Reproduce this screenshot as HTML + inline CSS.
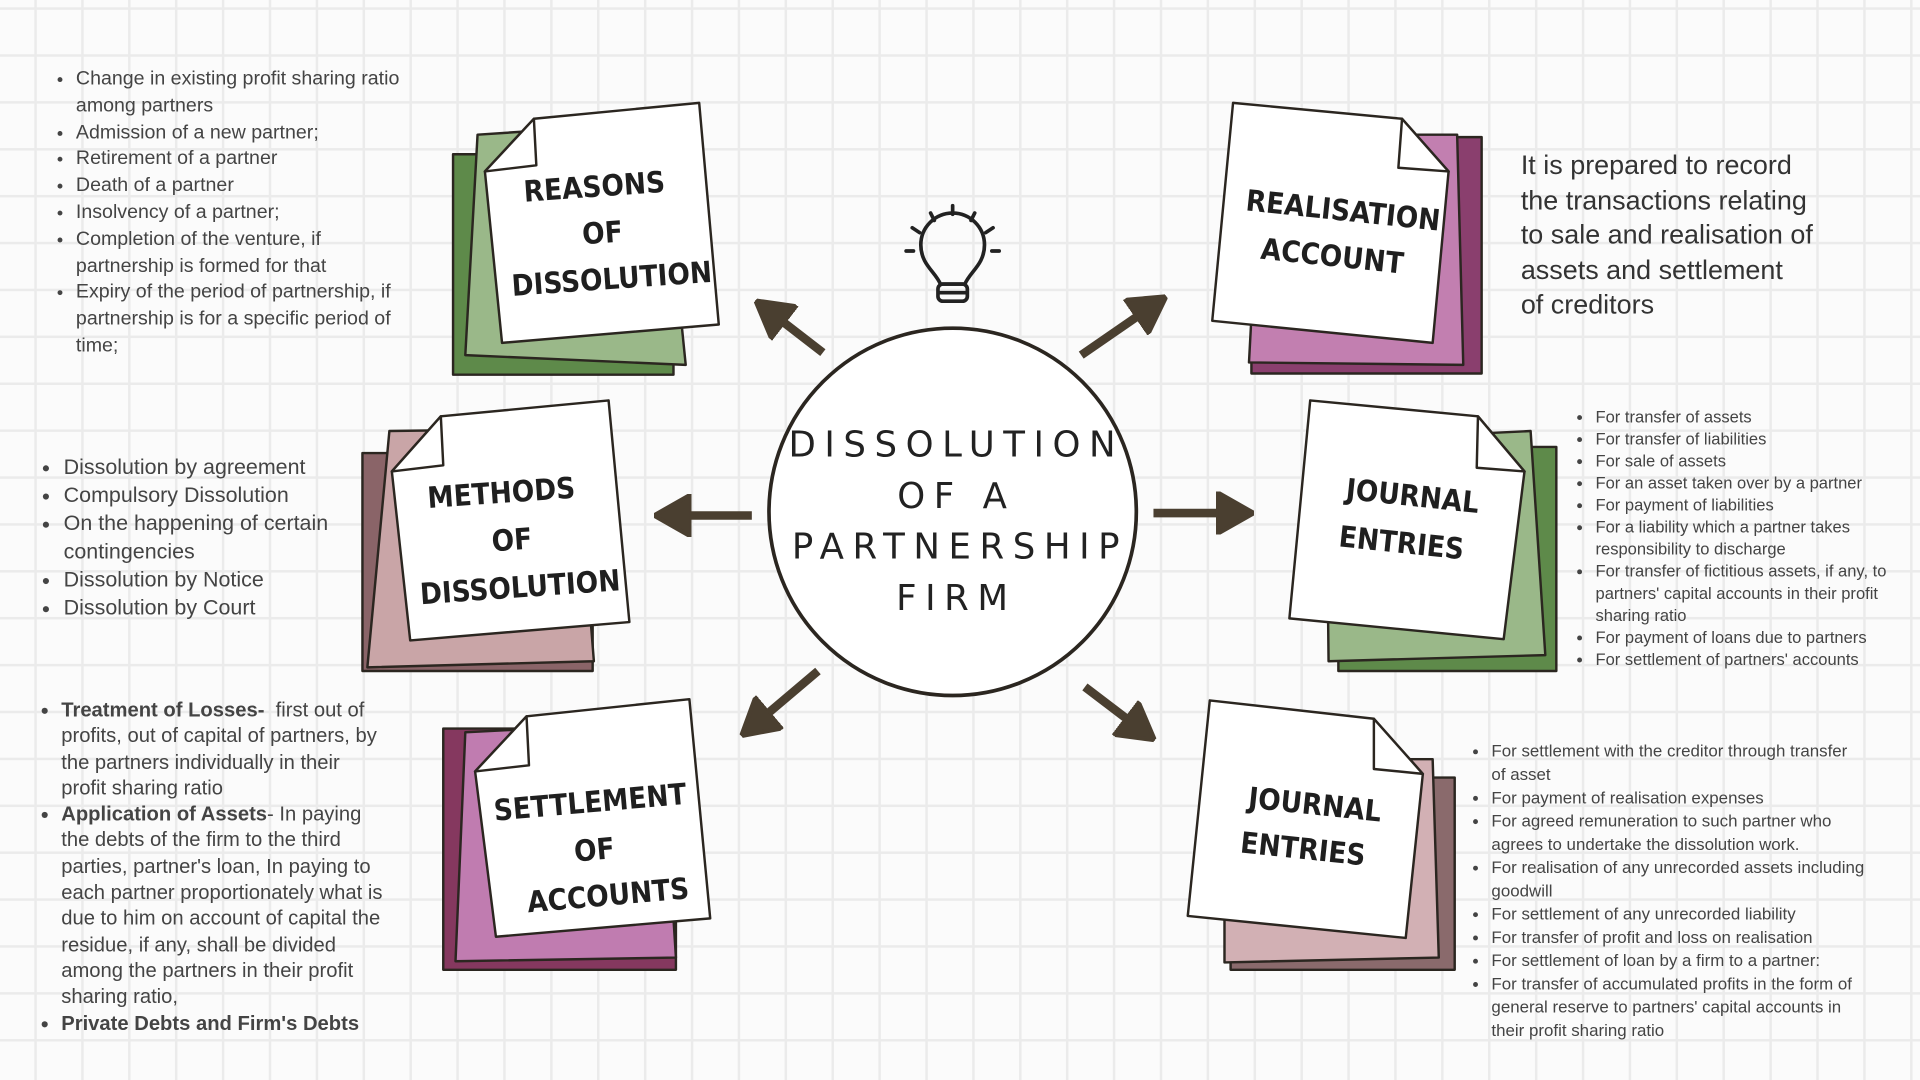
<!DOCTYPE html>
<html><head><meta charset="utf-8"><style>
html,body{margin:0;padding:0;width:1920px;height:1080px;overflow:hidden;background:#fbfbfb}
#s{position:absolute;left:0;top:0;width:1568px;height:882px;transform:scale(1.22449);transform-origin:0 0;
background-color:#fbfbfb;
background-image:linear-gradient(to right,#ebebeb 2px,transparent 2px),linear-gradient(to bottom,#ebebeb 2px,transparent 2px);
background-size:38.3px 38.3px;background-position:28px 6px;font-family:"Liberation Sans",sans-serif;color:#444}
svg{position:absolute;left:0;top:0}
ul{position:absolute;margin:0;padding:0 0 0 16px;list-style:disc;white-space:nowrap}
li{margin:0}
.nt{font-family:"DejaVu Sans Condensed","DejaVu Sans",sans-serif;font-weight:bold;fill:#1f1f1f;text-anchor:middle}
</style></head><body><div id="s">
<svg width="1568" height="882" viewBox="0 0 1568 882">
<g stroke="#2b2620" stroke-width="2" stroke-linejoin="round">
<rect x="370" y="126" width="180" height="180" fill="#5e8a4a"/>
<polygon points="390,110 540,100 560,298 380,290" fill="#9ab889"/>
<polygon points="436,97 571,84 587,265 410,280 396,140" fill="#fff"/>
<polygon points="436,97 396,140 438,135" fill="#fff"/>
<rect x="1022" y="112" width="188" height="193" fill="#8a3f6e"/>
<polygon points="1030,110 1190,110 1195,298 1020,296" fill="#c27fb0"/>
<polygon points="1007,84 1145,97 1183,140 1170,280 990,262" fill="#fff"/>
<polygon points="1145,97 1183,140 1142,137" fill="#fff"/>
<rect x="296" y="370" width="188" height="178" fill="#8a6468"/>
<polygon points="318,352 470,350 485,540 300,545" fill="#c9a5a7"/>
<polygon points="360,340 497,327 514,508 335,523 320,385" fill="#fff"/>
<polygon points="360,340 320,385 362,380" fill="#fff"/>
<rect x="1093" y="365" width="178" height="183" fill="#5e8a4a"/>
<polygon points="1083,360 1250,352 1262,535 1085,540" fill="#9ab889"/>
<polygon points="1070,327 1207,340 1245,385 1228,522 1053,505" fill="#fff"/>
<polygon points="1207,340 1245,385 1206,382" fill="#fff"/>
<rect x="362" y="595" width="190" height="197" fill="#85385f"/>
<polygon points="380,598 540,590 552,782 372,785" fill="#c07cb0"/>
<polygon points="430,585 563,571 580,750 405,765 388,630" fill="#fff"/>
<polygon points="430,585 388,630 432,625" fill="#fff"/>
<rect x="1005" y="635" width="183" height="157" fill="#8a6a6c"/>
<polygon points="1000,620 1170,620 1175,782 1000,786" fill="#d2b0b4"/>
<polygon points="988,572 1122,587 1162,632 1148,766 970,748" fill="#fff"/>
<polygon points="1122,587 1162,632 1122,628" fill="#fff"/>
</g>
<g font-size="24">
<text class="nt" transform="rotate(-4 497 190)"><tspan x="488" y="160">REASONS</tspan><tspan x="492" y="198">OF</tspan><tspan x="497" y="236">DISSOLUTION</tspan></text>
<text class="nt" transform="rotate(6 1095 190)"><tspan x="1095" y="180">REALISATION</tspan><tspan x="1090" y="218">ACCOUNT</tspan></text>
<text class="nt" transform="rotate(-4 420 440)"><tspan x="412" y="410">METHODS</tspan><tspan x="418" y="449">OF</tspan><tspan x="422" y="488">DISSOLUTION</tspan></text>
<text class="nt" transform="rotate(6 1150 420)"><tspan x="1152" y="413">JOURNAL</tspan><tspan x="1147" y="452">ENTRIES</tspan></text>
<text class="nt" transform="rotate(-5 488 690)"><tspan x="485" y="663">SETTLEMENT</tspan><tspan x="485" y="702">OF</tspan><tspan x="493" y="740">ACCOUNTS</tspan></text>
<text class="nt" transform="rotate(6 1070 675)"><tspan x="1072" y="665">JOURNAL</tspan><tspan x="1066" y="702">ENTRIES</tspan></text>
</g>
<circle cx="778" cy="418" r="150" fill="#fff" stroke="#2b2620" stroke-width="3"/>
<g font-family="DejaVu Sans,sans-serif" font-size="29" fill="#222" text-anchor="middle" letter-spacing="7">
<text x="781" y="373">DISSOLUTION</text><text x="781" y="415">OF A</text><text x="784" y="456">PARTNERSHIP</text><text x="781" y="498">FIRM</text>
</g>
<g stroke="#222" stroke-width="3" fill="none" stroke-linecap="round">
<path d="M768,232 C764,222 752,216 752,200 A26,26 0 1 1 804,200 C804,216 792,222 788,232 Z"/>
<rect x="766" y="232" width="24" height="14" rx="4"/>
<line x1="767" y1="239" x2="789" y2="239"/>
<line x1="778" y1="168" x2="778" y2="175"/><line x1="760" y1="174" x2="763" y2="180"/><line x1="796" y1="174" x2="793" y2="180"/>
<line x1="745" y1="186" x2="751" y2="190"/><line x1="811" y1="186" x2="805" y2="190"/>
<line x1="740" y1="205" x2="746" y2="205"/><line x1="810" y1="205" x2="816" y2="205"/>
</g>
<defs><marker id="a" markerWidth="4.4" markerHeight="5" refX="2.4" refY="2.5" orient="auto" markerUnits="strokeWidth"><path d="M0,0 L4.4,2.5 L0,5 Z" fill="#4a3f30" stroke="#4a3f30" stroke-width="0.5" stroke-linejoin="round"/></marker></defs>
<g stroke="#4a3f30" stroke-width="7" marker-end="url(#a)">
<line x1="672" y1="288" x2="628" y2="254"/>
<line x1="883" y1="290" x2="941" y2="250"/>
<line x1="614" y1="421" x2="548" y2="421"/>
<line x1="942" y1="419" x2="1010" y2="419"/>
<line x1="668" y1="548" x2="616" y2="592"/>
<line x1="886" y1="561" x2="932" y2="596"/>
</g>
</svg>
<ul style="left:46px;top:54px;font-size:16px;line-height:21.8px">
<li>Change in existing profit sharing ratio<br>among partners</li><li>Admission of a new partner;</li><li>Retirement of a partner</li><li>Death of a partner</li><li>Insolvency of a partner;</li><li>Completion of the venture, if<br>partnership is formed for that</li><li>Expiry of the period of partnership, if<br>partnership is for a specific period of<br>time;</li></ul>
<ul style="left:36px;top:370px;font-size:17.5px;line-height:23px">
<li>Dissolution by agreement</li><li>Compulsory Dissolution</li><li>On the happening of certain<br>contingencies</li><li>Dissolution by Notice</li><li>Dissolution by Court</li></ul>
<ul style="left:34px;top:570px;font-size:16.5px;line-height:21.3px">
<li><b>Treatment of Losses-</b>&nbsp; first out of<br>profits, out of capital of partners, by<br>the partners individually in their<br>profit sharing ratio</li><li><b>Application of Assets</b>- In paying<br>the debts of the firm to the third<br>parties, partner's loan, In paying to<br>each partner proportionately what is<br>due to him on account of capital the<br>residue, if any, shall be divided<br>among the partners in their profit<br>sharing ratio,</li><li><b>Private Debts and Firm's Debts</b></li></ul>
<div style="position:absolute;left:1242px;top:121px;font-size:22px;line-height:28.5px;color:#333;white-space:nowrap">It is prepared to record<br>the transactions relating<br>to sale and realisation of<br>assets and settlement<br>of creditors</div>
<ul style="left:1287px;top:332px;font-size:13.5px;line-height:18px">
<li>For transfer of assets</li><li>For transfer of liabilities</li><li>For sale of assets</li><li>For an asset taken over by a partner</li><li>For payment of liabilities</li><li>For a liability which a partner takes<br>responsibility to discharge</li><li>For transfer of fictitious assets, if any, to<br>partners' capital accounts in their profit<br>sharing ratio</li><li>For payment of loans due to partners</li><li>For settlement of partners' accounts</li></ul>
<ul style="left:1202px;top:604px;font-size:13.8px;line-height:19px">
<li>For settlement with the creditor through transfer<br>of asset</li><li>For payment of realisation expenses</li><li>For agreed remuneration to such partner who<br>agrees to undertake the dissolution work.</li><li>For realisation of any unrecorded assets including<br>goodwill</li><li>For settlement of any unrecorded liability</li><li>For transfer of profit and loss on realisation</li><li>For settlement of loan by a firm to a partner:</li><li>For transfer of accumulated profits in the form of<br>general reserve to partners' capital accounts in<br>their profit sharing ratio</li></ul>
</div></body></html>
